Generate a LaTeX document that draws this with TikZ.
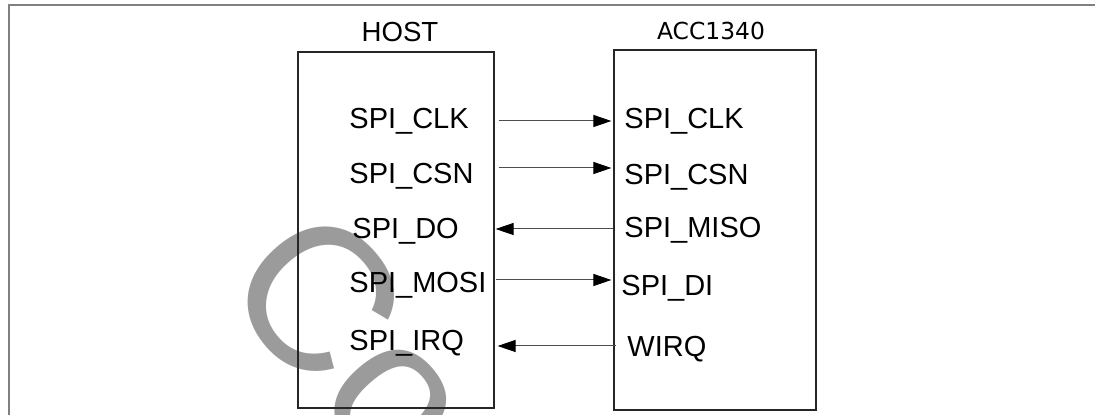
\documentclass[tikz,border=0pt]{standalone}
\usepackage{fontspec}
\setmainfont{Liberation Sans}
\newfontfamily\dejavu{DejaVu Sans}
\usepackage{tikz}
\usetikzlibrary{arrows.meta}
\usetikzlibrary{calc}
\usetikzlibrary{positioning}

\definecolor{wmgray}{RGB}{155,155,155}
\definecolor{framegray}{RGB}{128,128,128}

\tikzset{
	sig/.style={-{Triangle[length=9pt,width=6pt,color=black]}, line width=0.5pt, black!70},
	chip/.style={draw, black!85, line width=0.6pt, inner sep=0, minimum width=#1},
	pin/.style={anchor=base west, inner sep=0, font=\fontsize{14.5}{16}\selectfont}
}

\begin{document}
\begin{tikzpicture}[x=0.5pt,y=-0.5pt]
\useasboundingbox (0,0) rectangle (1095,415);

% watermark
\begin{scope}
\clip (0,0) rectangle (1095,415);
\node[anchor=base west, inner sep=0, rotate=-49, text=wmgray, font=\fontsize{102}{102}\selectfont] (wm) at (216,286) {Confidential};
\end{scope}

\draw [framegray, line width=1pt] (9,415) -- (9,5) -- (1095,5);

\node[chip=98pt, minimum height=178pt] (host) at (396,230) {};
\node[chip=101pt, minimum height=180pt] (acc) at (715,230) {};

\node[anchor=base, inner sep=0, font=\fontsize{13.8}{16}\selectfont] (hosttitle) at (400,42) {HOST};
\node[anchor=base, inner sep=0, font=\dejavu\fontsize{11.7}{14}\selectfont] (acctitle) at (711,40) {ACC1340};

% host side
\node[pin] (hclk) at (349,129) {SPI\_CLK};
\node[pin] (hcsn) at (349,184) {SPI\_CSN};
\node[pin] (hdo) at (352,239) {SPI\_DO};
\node[pin] (hmosi) at (349,293) {SPI\_MOSI};
\node[pin] (hirq) at (349,351) {SPI\_IRQ};

% acc side
\node[pin] (aclk) at (624,129) {SPI\_CLK};
\node[pin] (acsn) at (624,185) {SPI\_CSN};
\node[pin] (amiso) at (624,238) {SPI\_MISO};
\node[pin] (adi) at (621,296) {SPI\_DI};
\node[pin] (awirq) at (627,357) {WIRQ};

\coordinate (y1) at (0,121);
\coordinate (y2) at (0,168);
\coordinate (y3) at (0,229);
\coordinate (y4) at (0,280);
\coordinate (y5) at (0,346);

\draw [sig] ([xshift=2pt]host.east |- y1) -- ([xshift=-1pt]acc.west |- y1);
\draw [sig] ([xshift=2pt]host.east |- y2) -- ([xshift=-1pt]acc.west |- y2);
\draw [sig] (acc.west |- y3) -- ([xshift=0.5pt]host.east |- y3);
\draw [sig] ([xshift=0.5pt]host.east |- y4) -- ([xshift=-1pt]acc.west |- y4);
\draw [sig] ([xshift=1.5pt]acc.west |- y5) -- ([xshift=1.5pt]host.east |- y5);

\end{tikzpicture}
\end{document}
